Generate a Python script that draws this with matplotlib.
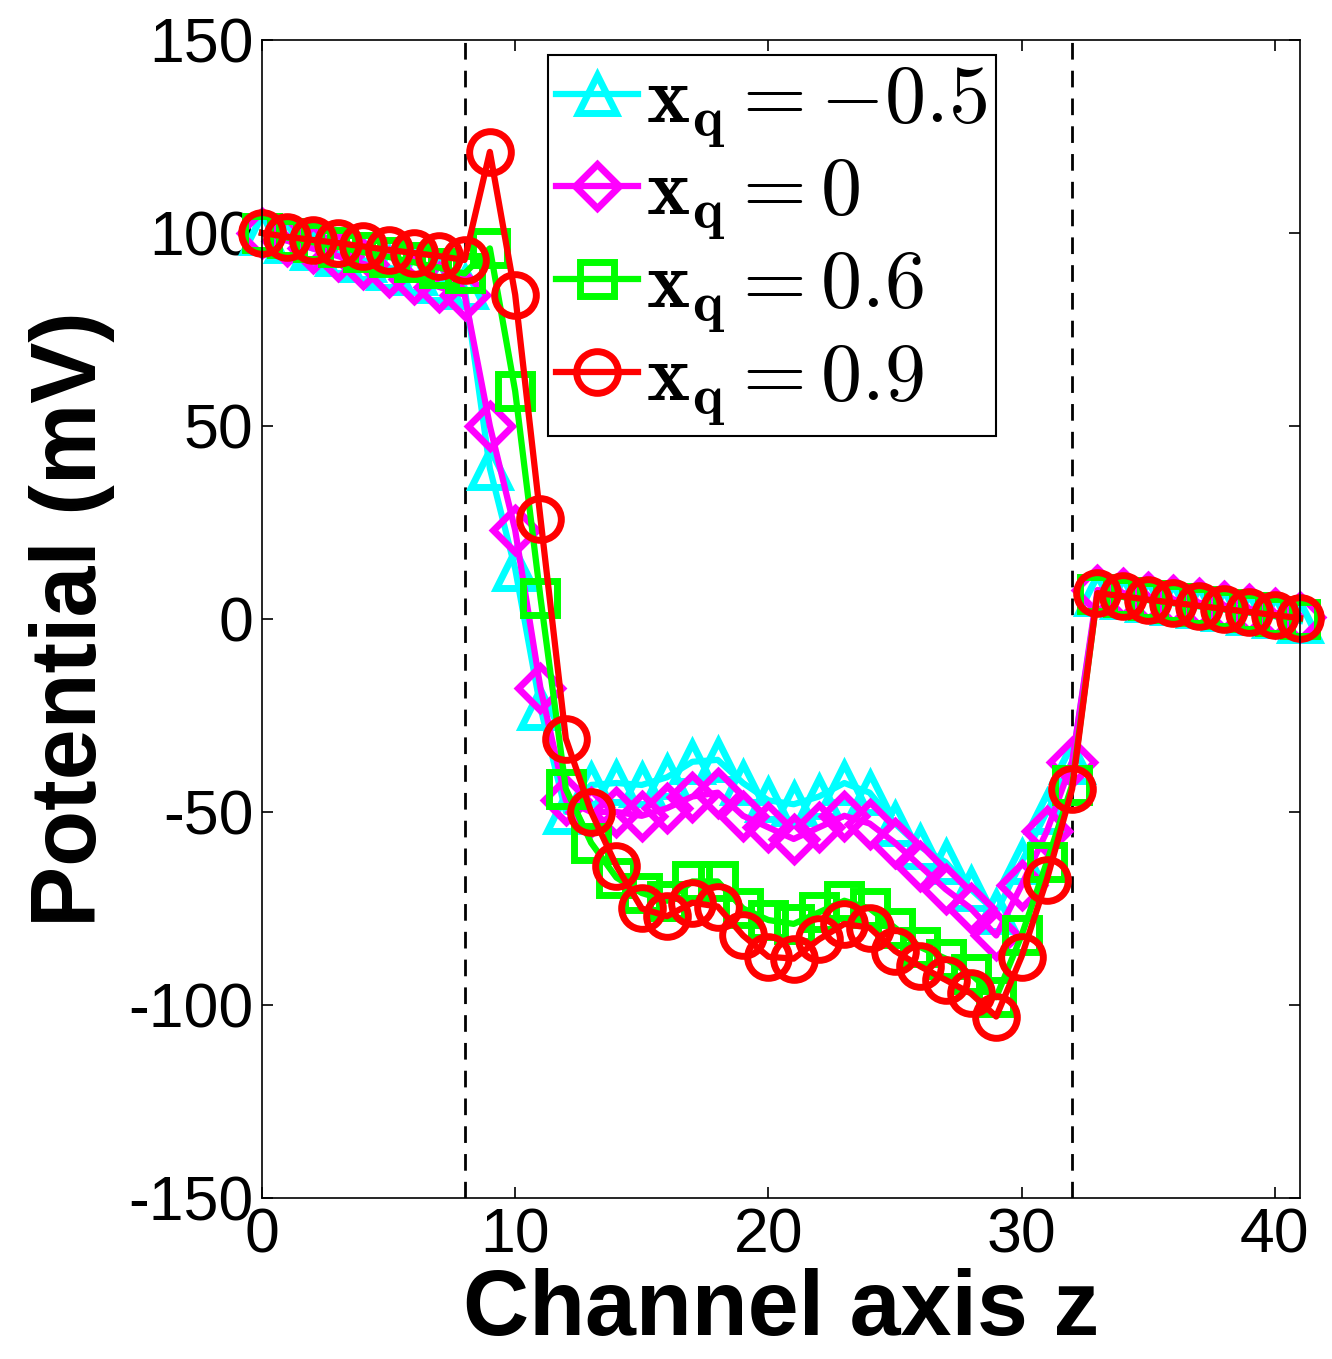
import numpy as np
import matplotlib
matplotlib.use('Agg')
import matplotlib.pyplot as plt

plt.rcParams['font.family'] = ['Liberation Sans', 'DejaVu Sans']
plt.rcParams['mathtext.fontset'] = 'cm'

# channel positions
z = np.arange(0, 42)

# potential (mV) for each x_q
pot_m05 = [100, 98, 96, 94.5, 93, 91, 89.5, 87.5, 86,
           39, 13, -23, -50, -43, -42.5, -43, -41, -37, -36.5, -42.5, -47,
           -48, -46, -42.5, -45, -53, -59, -63, -70, -76, -63, -50, -37,
           6.5, 5.7, 4.9, 4.1, 3.3, 2.5, 1.6, 0.7, -0.5]
pot_0 = [100, 98, 96, 94, 92, 90, 88, 86, 84,
         50, 23, -18, -47, -50, -50, -51, -49, -46, -45, -51, -54,
         -57, -54, -51, -53, -58, -64, -70, -75, -82, -69, -55, -37,
         7.5, 6.7, 5.8, 5, 4.2, 3.4, 2.6, 1.6, 0.5]
pot_06 = [100, 98.8, 97.6, 96.4, 95, 93.8, 92.4, 91, 89.5,
          96, 59, 5.5, -44, -58, -67, -71, -73, -68, -68, -75, -78,
          -79, -76, -73, -75, -80, -85, -88, -92, -98, -82, -63, -43,
          6.5, 5.7, 4.9, 4.1, 3.3, 2.5, 1.7, 0.8, 0]
pot_09 = [100, 99, 98.2, 97.4, 96.5, 95.6, 94.8, 94, 93,
          121, 84, 26, -31, -50, -64, -75, -77, -73.5, -74.5, -82, -87.5,
          -88, -83, -79, -80, -86, -90, -93.5, -97, -103, -87.5, -67.5, -44,
          6.7, 5.9, 5, 4.2, 3.4, 2.6, 1.8, 1, 0.2]

labels = [r'$\mathbf{x_q = -0.5}$', r'$\mathbf{x_q = 0}$',
          r'$\mathbf{x_q = 0.6}$', r'$\mathbf{x_q = 0.9}$']
series = [pot_m05, pot_0, pot_06, pot_09]
colors = ['#00ffff', '#ff00ff', '#00ff00', '#ff0000']
markers = ['^', 'D', 's', 'o']
msizes = [27, 22, 24, 30]

barrier = [8, 32]

fig = plt.figure(figsize=(13.32, 13.59), dpi=100)
ax = fig.add_axes([0.1967, 0.1185, 0.7793, 0.8521])

for y, c, m, ms, lab in zip(series, colors, markers, msizes, labels):
    ax.plot(z, y, color=c, marker=m, ms=ms, mfc='none', mec=c, mew=5,
            lw=4.5, label=lab, clip_on=False)

for b in barrier:
    ax.axvline(b, color='k', ls='--', lw=2, dashes=(6, 4), zorder=0)

ax.set_xlim(0, 41)
ax.set_ylim(-150, 150)
ax.set_xticks([0, 10, 20, 30, 40])
ax.set_yticks([-150, -100, -50, 0, 50, 100, 150])
ax.set_yticklabels(['-150', '-100', '-50', '0', '50', '100', '150'])
ax.tick_params(direction='in', length=8, width=1.2, labelsize=45,
               top=True, right=True, pad=6)
for s in ax.spines.values():
    s.set_linewidth(1.2)

ax.set_xlabel('Channel axis z', fontsize=66, fontweight='bold', labelpad=2)
ax.set_ylabel('Potential (mV)', fontsize=66, fontweight='bold', labelpad=10)

leg = ax.legend(loc='upper left', bbox_to_anchor=(0.2755, 0.987),
                fontsize=59, handlelength=1.0, handletextpad=0.1,
                borderpad=0.1, labelspacing=0.08, borderaxespad=0,
                fancybox=False, framealpha=1, edgecolor='k', markerscale=1)
leg.get_frame().set_linewidth(1.5)

fig.savefig('out.png', dpi=100)
